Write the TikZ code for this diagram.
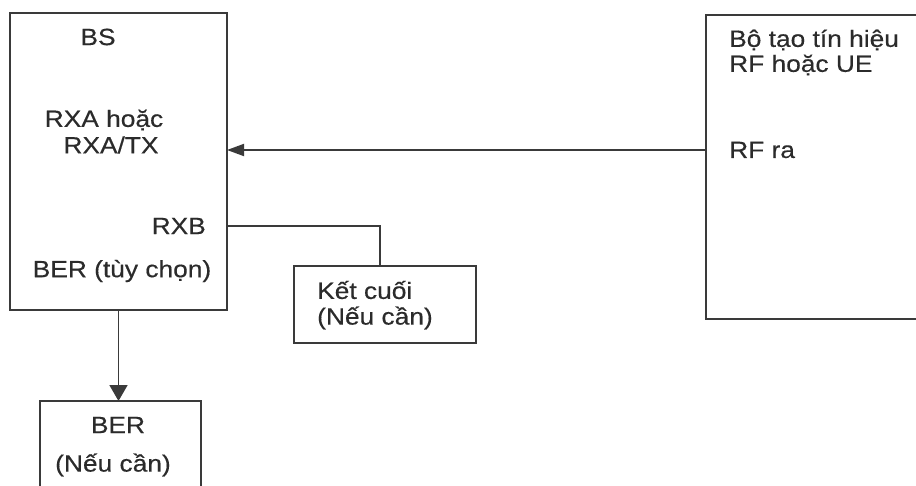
\documentclass[tikz,border=0pt]{standalone}
\usepackage{fontspec}
\setmainfont{Liberation Sans}[FakeStretch=1.12,FakeBold=0.4]
\usetikzlibrary{arrows.meta}
\definecolor{ink}{HTML}{2B2B2B}
\definecolor{linec}{HTML}{3A3A3A}
\tikzset{
  frame/.style={draw=linec, line width=1.8pt, rectangle, outer sep=0pt, inner sep=0pt, anchor=north west},
  hidden/.style={rectangle, outer sep=0pt, inner sep=0pt, anchor=north west},
  lbl/.style={text=ink, inner sep=0pt, font=\fontsize{23.5}{27}\selectfont},
  wire/.style={draw=linec, line width=1.8pt},
  arrL/.style={wire, -{Triangle[length=17pt,width=12pt]}},
  arrD/.style={wire, -{Triangle[length=16pt,width=18pt]}}
}
\begin{document}
\begin{tikzpicture}[x=1pt,y=-1pt]
\useasboundingbox (0,0) rectangle (916,486);
% boxes
\node[frame, minimum width=217pt, minimum height=297pt] (bs) at (10,13) {};
\node[frame, minimum width=182pt, minimum height=77pt] (term) at (294,266) {};
\node[hidden, minimum width=161pt, minimum height=86pt] (ber) at (40,401) {};
\node[hidden, minimum width=210pt, minimum height=304pt] (rfgen) at (706,15) {};
\draw[wire] (ber.south west) -- (ber.north west) -- (ber.north east) -- (ber.south east);
\draw[wire] (rfgen.north east) -- (rfgen.north west) -- (rfgen.south west) -- (rfgen.south east);
% texts in BS
\node[lbl] (bslbl) at (98,37) {BS};
\node[lbl] (rxa1) at (104,120) {RXA hoặc};
\node[lbl] (rxa2) at (111,145) {RXA/TX};
\node[lbl, anchor=east] (rxb) at (206,226) {RXB};
\node[lbl] (berop) at (122,271) {BER (tùy chọn)};
% texts in terminator
\node[lbl, anchor=west] (term1) at (317,290) {Kết cuối};
\node[lbl, anchor=west] (term2) at (317,318) {(Nếu cần)};
% texts in BER
\node[lbl] (ber1) at (118,425) {BER};
\node[lbl] (ber2) at (113,465) {(Nếu cần)};
% texts in generator
\node[lbl, anchor=west] (gen1) at (729,40) {Bộ tạo tín hiệu};
\node[lbl, anchor=west] (gen2) at (729,65) {RF hoặc UE};
\node[lbl, anchor=west] (rfout) at (729,150) {RF ra};
% connectors
\draw[arrL] (rfgen.west |- rfout.west) -- (bs.east |- rfout.west);
\draw[wire] (bs.east |- rxb.east) -| ([xshift=-5pt]term.north);
\draw[arrD] (bs.south) -- (bs.south |- ber.north);
\end{tikzpicture}
\end{document}
